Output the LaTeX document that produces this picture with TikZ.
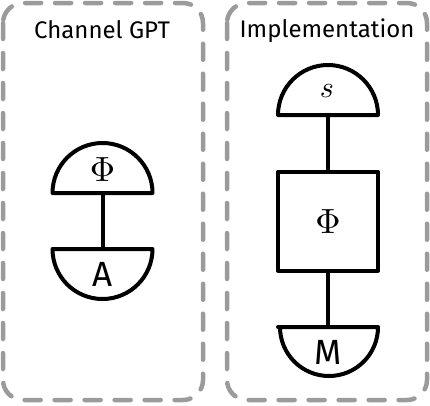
\documentclass[tikz,border=0pt]{standalone}
\usepackage{fontspec}
\setmainfont{Fira Sans}
\definecolor{framegray}{RGB}{155,155,155}
\begin{document}
\begin{tikzpicture}[x=1pt,y=-1pt,
  frame/.style={draw=framegray, line width=4.5pt, dash pattern=on 16pt off 14pt, line cap=round, rounded corners=20pt},
  part/.style={draw=black, line width=4pt, line join=round},
  wire/.style={draw=black, line width=4pt},
  title/.style={inner sep=0pt, font=\fontsize{24}{28}\selectfont},
  lab/.style={inner sep=0pt, font=\fontsize{35}{40}\selectfont},
  mathlab/.style={inner sep=0pt, scale=3.5},
  smalllab/.style={inner sep=0pt, scale=3.0}]
\useasboundingbox (0,0) rectangle (430,405);
% frames
\draw[frame] (3,3) rectangle (203,400);
\draw[frame] (227,3) rectangle (427,400);
\node[title] (t1) at (102,30) {Channel GPT};
\node[title] (t2) at (327,31) {Implementation};
% left: state Phi and effect A
\draw[part] (52.5,193) -- (152.5,193) arc[start angle=0, end angle=-180, radius=50] -- cycle;
\draw[part] (52.5,249) -- (152.5,249) arc[start angle=0, end angle=180, radius=50] -- cycle;
\coordinate (phiB) at (102.5,193);
\coordinate (aT) at (102.5,249);
\draw[wire] (phiB) -- (aT);
\node[mathlab] (phiL) at (102.5,170) {$\Phi$};
\node[lab] (aL) at (102.5,274) {A};
% right: state s, box Phi, effect M
\draw[part] (278,115) -- (378,115) arc[start angle=0, end angle=-180, radius=50] -- cycle;
\node[part, minimum width=100pt, minimum height=99pt, inner sep=0pt] (box) at (328,221) {};
\node[mathlab] (phiR) at (328,222) {$\Phi$};
\draw[part] (278,327) -- (378,327) arc[start angle=0, end angle=180, radius=49] -- cycle;
\coordinate (sB) at (328,115);
\coordinate (mT) at (328,327);
\draw[wire] (sB) -- (box.north);
\draw[wire] (box.south) -- (mT);
\node[smalllab] (sL) at (327,91) {$s$};
\node[lab] (mL) at (328,352) {M};
\end{tikzpicture}
\end{document}
